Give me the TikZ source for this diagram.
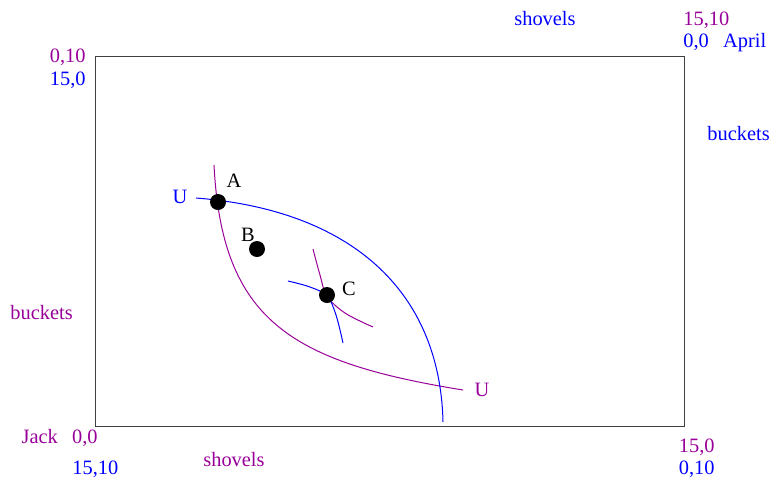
\documentclass[tikz,border=0pt]{standalone}
\definecolor{jackcol}{RGB}{153, 0, 153}
\definecolor{aprilcol}{RGB}{0, 0, 255}
\usepackage{fontspec}
\setmainfont{Liberation Serif}
\usepackage{tikz}
\usetikzlibrary{positioning, calc}

\begin{document}
\begin{tikzpicture}[x=0.5pt, y=-0.5pt,
        every node/.style={font=\fontsize{10.2}{12}\selectfont, inner sep=0pt},
        jack/.style={text=jackcol},
        april/.style={text=aprilcol},
        dot/.style={circle, fill=black, minimum size=8pt, inner sep=0pt},
        jackline/.style={jackcol, line width=0.5pt},
        aprilline/.style={aprilcol, line width=0.5pt}]
        \useasboundingbox (0,0) rectangle (773,479);

        % The box
        \draw[black!75, line width=0.5pt] (95,56) rectangle (684,426);

        % Corner labels, Jack (purple) and April (blue)
        \node[jack, anchor=base east] (jackTL) at (86,62) {0,10};
        \node[april, anchor=base east] (aprilTL) at (86,85) {15,0};
        \node[jack, anchor=base west] (jackTR) at (683,25) {15,10};
        \node[april, anchor=base west] (aprilTR) at (683,47) {0,0\hspace{0.7em}April};
        \node[jack, anchor=base east] (jackBL) at (98,443) {Jack\hspace{0.7em}0,0};
        \node[april, anchor=base west] (aprilBL) at (72,474) {15,10};
        \node[jack, anchor=base east] (jackBR) at (715,452) {15,0};
        \node[april, anchor=base east] (aprilBR) at (715,474) {0,10};

        % Axis labels
        \node[april, anchor=base] (aprilShov) at (545,25) {shovels};
        \node[april, anchor=base west] (aprilBuck) at (707,140) {buckets};
        \node[jack, anchor=base] (jackShov) at (234,466) {shovels};
        \node[jack, anchor=base west] (jackBuck) at (10,319) {buckets};

        % Indifference curves
        \coordinate (jackTop) at (214,165);
        \coordinate (jackEnd) at (463,390);
        \coordinate (aprilTop) at (196,198);
        \coordinate (aprilEnd) at (443,422);
        \draw[jackline] (jackTop) .. controls (222,320) and (290,362) .. (jackEnd);
        \draw[aprilline] (aprilTop) .. controls (350,210) and (440,290) .. (aprilEnd);
        \draw[jackline] plot[smooth, tension=0.6] coordinates {(313,249) (320,275) (327,296) (345,313) (373,327)};
        \draw[aprilline] plot[smooth, tension=0.6] coordinates {(288,281) (310,287) (327,296) (336,315) (343,343)};
        \node[april, anchor=base] (uApril) at (180,203) {U};
        \node[jack, anchor=base] (uJack) at (482,396) {U};

        % Allocations
        \node[dot] (A) at (218,202) {};
        \node[dot] (B) at (257,249) {};
        \node[dot] (C) at (327,295) {};
        \node[anchor=base] (labA) at (234,187) {A};
        \node[anchor=base] (labB) at (248,241) {B};
        \node[anchor=base] (labC) at (349,295) {C};
    \end{tikzpicture}
\end{document}
